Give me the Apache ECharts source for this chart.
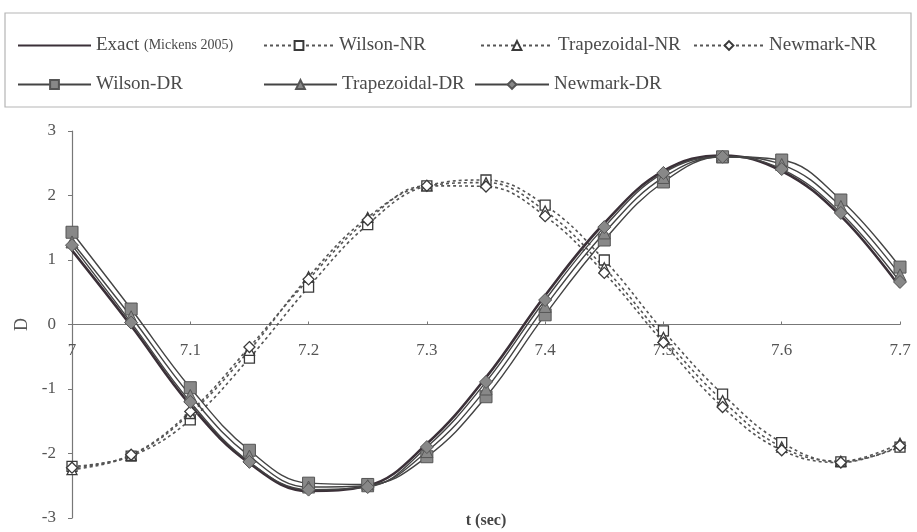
<!DOCTYPE html>
<html><head><meta charset="utf-8">
<script src="https://cdn.jsdelivr.net/npm/echarts@6/dist/echarts.min.js"></script>
<style>html,body{margin:0;padding:0;background:#fff}#c{width:917px;height:532px}</style>
</head><body><div id="c"></div>
<script>
var t = [7.0, 7.05, 7.1, 7.15, 7.2, 7.25, 7.3, 7.35, 7.4, 7.45, 7.5, 7.55, 7.6, 7.65, 7.7];
var exact      = [1.15, -0.02, -1.25, -2.15, -2.58, -2.50, -1.85, -0.82, 0.45, 1.57, 2.38, 2.62, 2.38, 1.68, 0.58];
var wilsonNR   = [-2.20, -2.04, -1.48, -0.52, 0.58, 1.55, 2.15, 2.24, 1.85, 1.00, -0.10, -1.08, -1.83, -2.13, -1.90];
var trapNR     = [-2.25, -2.03, -1.38, -0.40, 0.74, 1.66, 2.15, 2.20, 1.76, 0.88, -0.20, -1.18, -1.90, -2.12, -1.84];
var newmarkNR  = [-2.22, -2.02, -1.35, -0.35, 0.70, 1.62, 2.15, 2.14, 1.68, 0.80, -0.28, -1.28, -1.95, -2.14, -1.88];
var wilsonDR   = [1.43, 0.24, -0.98, -1.95, -2.46, -2.48, -2.05, -1.12, 0.15, 1.31, 2.21, 2.60, 2.55, 1.93, 0.89];
var trapDR     = [1.28, 0.12, -1.10, -2.04, -2.52, -2.50, -1.97, -1.00, 0.28, 1.42, 2.28, 2.60, 2.48, 1.83, 0.77];
var newmarkDR  = [1.23, 0.03, -1.20, -2.13, -2.56, -2.52, -1.90, -0.89, 0.38, 1.51, 2.35, 2.60, 2.41, 1.73, 0.66];
var xTicks = ['7', '7.1', '7.2', '7.3', '7.4', '7.5', '7.6', '7.7'];
var yTicks = ['-3', '-2', '-1', '0', '1', '2', '3'];

function pairs(v) { return t.map(function (x, i) { return [x, v[i]]; }); }

var FONT = 'Liberation Serif';
var dark = '#3a3a3a';
var nrLine = { type: [3, 3], width: 1.6, color: '#555' };
var drLine = { type: 'solid', width: 1.4, color: '#444' };

var series = [
  { name: 'Exact (Mickens 2005)', data: pairs(exact), symbol: 'none', lineStyle: { width: 2.6, color: '#3b3038' }, itemStyle: { color: '#3b3038' } },
  { name: 'Wilson-NR', data: pairs(wilsonNR), symbol: 'rect', symbolSize: 10, lineStyle: nrLine, itemStyle: { color: '#fff', borderColor: dark, borderWidth: 1.3 } },
  { name: 'Trapezoidal-NR', data: pairs(trapNR), symbol: 'triangle', symbolSize: 10, lineStyle: nrLine, itemStyle: { color: '#fff', borderColor: dark, borderWidth: 1.3 } },
  { name: 'Newmark-NR', data: pairs(newmarkNR), symbol: 'diamond', symbolSize: 11, lineStyle: nrLine, itemStyle: { color: '#fff', borderColor: dark, borderWidth: 1.3 } },
  { name: 'Wilson-DR', data: pairs(wilsonDR), symbol: 'rect', symbolSize: 12, lineStyle: drLine, itemStyle: { color: '#888', borderColor: '#555', borderWidth: 1 } },
  { name: 'Trapezoidal-DR', data: pairs(trapDR), symbol: 'triangle', symbolSize: 12, lineStyle: drLine, itemStyle: { color: '#888', borderColor: '#555', borderWidth: 1 } },
  { name: 'Newmark-DR', data: pairs(newmarkDR), symbol: 'diamond', symbolSize: 13, lineStyle: drLine, itemStyle: { color: '#888', borderColor: '#555', borderWidth: 1 } }
].map(function (s) { s.type = 'line'; s.smooth = 0.4; s.animation = false; return s; });

var legendPos = [
  ['Exact (Mickens 2005)', 17, 36, 73],
  ['Wilson-NR', 263, 36, 70],
  ['Trapezoidal-NR', 480, 36, 72],
  ['Newmark-NR', 693, 36, 70],
  ['Wilson-DR', 17, 75, 73],
  ['Trapezoidal-DR', 263, 75, 73],
  ['Newmark-DR', 474, 75, 74]
];
var legends = legendPos.map(function (p, k) {
  return {
    data: [p[0]], left: p[1], top: p[2], padding: 0, itemGap: 0,
    itemWidth: p[3], itemHeight: 11,
    itemStyle: k === 0 ? { opacity: 0 } : {},
    textStyle: { fontFamily: FONT, fontSize: 19, color: '#4a4a4a',
      rich: { s: { fontFamily: FONT, fontSize: 14, color: '#4a4a4a' } } },
    formatter: function (n) { return n === 'Exact (Mickens 2005)' ? 'Exact {s|(Mickens 2005)}' : n; },
    selectedMode: false
  };
});

var chart = echarts.init(document.getElementById('c'), null, { renderer: 'canvas' });
chart.setOption({
  backgroundColor: '#fff',
  animation: false,
  graphic: [{ type: 'rect', shape: { x: 5, y: 13, width: 906, height: 94 }, style: { fill: 'none', stroke: '#b5b5b5', lineWidth: 1.2 }, silent: true }],
  legend: legends,
  grid: { left: 72, right: 17, top: 131, bottom: 14, containLabel: false, outerBoundsMode: 'none' },
  xAxis: {
    type: 'value', min: 7, max: 7.7, interval: 0.1,
    position: 'bottom', offset: -193.5,
    axisLine: { onZero: false, lineStyle: { color: '#777', width: 1.2 } },
    axisTick: { show: true, length: 3, inside: true, lineStyle: { color: '#777' } },
    splitLine: { show: false },
    axisLabel: { fontFamily: FONT, fontSize: 17, color: '#555', margin: 18,
      formatter: function (v) { var i = Math.round((v - 7) * 10); return xTicks[i] !== undefined ? xTicks[i] : ''; } },
    name: 't (sec)', nameLocation: 'middle', nameGap: 188,
    nameTextStyle: { fontFamily: FONT, fontSize: 16, fontWeight: 'bold', color: '#444' }
  },
  yAxis: {
    type: 'value', min: -3, max: 3, interval: 1,
    axisLine: { show: true, onZero: false, lineStyle: { color: '#777', width: 1.2 } },
    axisTick: { show: true, length: 4, lineStyle: { color: '#777' } },
    splitLine: { show: false },
    axisLabel: { fontFamily: FONT, fontSize: 17, color: '#555', margin: 16,
      formatter: function (v) { var i = Math.round(v + 3); return yTicks[i] !== undefined ? yTicks[i] : ''; } },
    name: 'D', nameLocation: 'middle', nameGap: 38, nameRotate: 90,
    nameTextStyle: { fontFamily: FONT, fontSize: 18, color: '#555' }
  },
  series: series
});
</script></body></html>
